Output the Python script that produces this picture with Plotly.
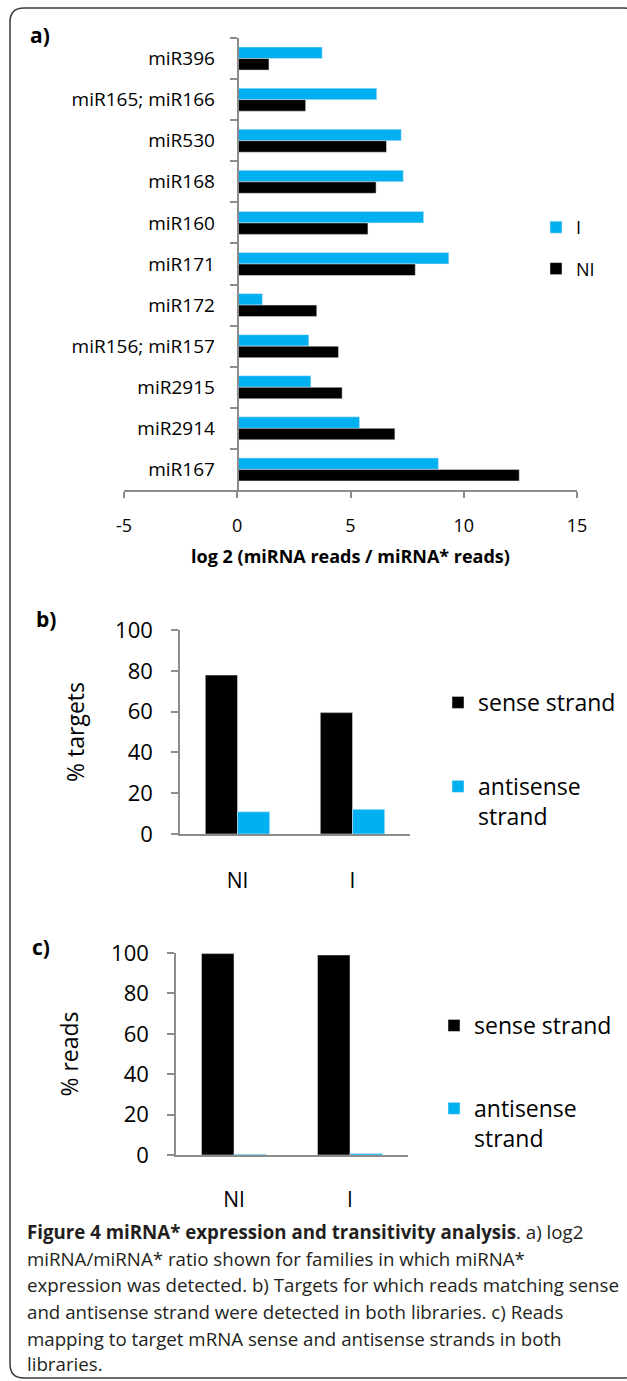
import plotly.graph_objects as go

W, H = 627, 1381

# ---------------- data ----------------
mirnas = ["miR396", "miR165; miR166", "miR530", "miR168", "miR160", "miR171",
          "miR172", "miR156; miR157", "miR2915", "miR2914", "miR167"]
ratio_I = [3.75, 6.16, 7.24, 7.33, 8.23, 9.34, 1.11, 3.16, 3.25, 5.40, 8.88]
ratio_NI = [1.40, 3.02, 6.59, 6.13, 5.77, 7.86, 3.51, 4.47, 4.63, 6.96, 12.45]
ratio_ticks = [-5, 0, 5, 10, 15]
ratio_tick_text = ["-5", "0", "5", "10", "15"]

libraries = ["NI", "I"]
targets_sense = [77.9, 59.5]
targets_antisense = [10.9, 12.1]
reads_sense = [99.7, 99.0]
reads_antisense = [0.4, 0.8]

caption_lines = [
    "<b>Figure 4 miRNA* expression and transitivity analysis</b>. a) log2",
    "miRNA/miRNA* ratio shown for families in which miRNA*",
    "expression was detected. b) Targets for which reads matching sense",
    "and antisense strand were detected in both libraries. c) Reads",
    "mapping to target mRNA sense and antisense strands in both",
    "libraries.",
]

CYAN = "#00B0F0"
BLACK = "#000000"
GRAY = "#8C8C8C"
FONT = "Open Sans"


def px(x):
    return x / W


def py(y):
    return 1 - y / H


fig = go.Figure()

# ---- panel a ----
fig.add_trace(go.Bar(y=mirnas, x=ratio_I, orientation="h", name="I",
                     marker_color=CYAN, xaxis="x", yaxis="y",
                     legend="legend", legendgroup="aI"))
fig.add_trace(go.Bar(y=mirnas, x=ratio_NI, orientation="h", name="NI",
                     marker_color=BLACK, xaxis="x", yaxis="y",
                     legend="legend", legendgroup="aNI"))

# ---- panel b ----
fig.add_trace(go.Bar(x=libraries, y=targets_sense, name="sense strand",
                     marker_color=BLACK, xaxis="x2", yaxis="y2",
                     legend="legend2", legendgroup="bs"))
fig.add_trace(go.Bar(x=libraries, y=targets_antisense, name="antisense<br>strand",
                     marker_color=CYAN, xaxis="x2", yaxis="y2",
                     legend="legend2", legendgroup="ba"))

# ---- panel c ----
fig.add_trace(go.Bar(x=libraries, y=reads_sense, name="sense strand",
                     marker_color=BLACK, xaxis="x3", yaxis="y3",
                     legend="legend3", legendgroup="cs"))
fig.add_trace(go.Bar(x=libraries, y=reads_antisense, name="antisense<br>strand",
                     marker_color=CYAN, xaxis="x3", yaxis="y3",
                     legend="legend3", legendgroup="ca"))

axis_common = dict(showline=True, linecolor=GRAY, linewidth=1.5, showgrid=False,
                   zeroline=False, tickcolor=GRAY, tickwidth=1.5, automargin=False)

annotations = [
    dict(text="<b>a)</b>", x=px(40), y=py(35), font=dict(size=21)),
    dict(text="<b>b)</b>", x=px(46), y=py(619), font=dict(size=21)),
    dict(text="<b>c)</b>", x=px(41), y=py(947), font=dict(size=21)),
]
cap_y = [1231, 1258, 1284, 1311, 1338, 1363]
for line, yy in zip(caption_lines, cap_y):
    annotations.append(dict(text=line, x=px(25), y=py(yy), xanchor="left",
                            font=dict(size=18.7, color="#231F20")))
for a in annotations:
    a.setdefault("xref", "paper")
    a.setdefault("yref", "paper")
    a.setdefault("showarrow", False)
    a.setdefault("yanchor", "middle")
    a.setdefault("xanchor", "center")

r = 14
x0, y0, x1, y1 = 10, 8, 638, 1378
path = (f"M {px(x0)},{py(y0 + r)} Q {px(x0)},{py(y0)} {px(x0 + r)},{py(y0)} "
        f"L {px(x1 - r)},{py(y0)} Q {px(x1)},{py(y0)} {px(x1)},{py(y0 + r)} "
        f"L {px(x1)},{py(y1 - r)} Q {px(x1)},{py(y1)} {px(x1 - r)},{py(y1)} "
        f"L {px(x0 + r)},{py(y1)} Q {px(x0)},{py(y1)} {px(x0)},{py(y1 - r)} Z")

fig.update_layout(
    width=W, height=H,
    margin=dict(l=0, r=0, t=0, b=0),
    paper_bgcolor="white", plot_bgcolor="white",
    font=dict(family=FONT, color="#000000"),
    barmode="group", bargap=0.44,
    xaxis=dict(domain=[px(124), px(577)], anchor="y", range=[-5, 15],
               tickmode="array", tickvals=ratio_ticks, ticktext=ratio_tick_text,
               ticks="outside", ticklen=6, tickfont=dict(size=18),
               ticklabelstandoff=13,
               title=dict(text="<b>log 2 (miRNA reads / miRNA* reads)</b>",
                          font=dict(size=18), standoff=14),
               **axis_common),
    yaxis=dict(domain=[py(490), py(38)], anchor="free", position=px(237.5),
               type="category", categoryorder="array", categoryarray=mirnas,
               autorange="reversed", ticks="outside", tickson="boundaries",
               ticklen=7, tickfont=dict(size=19), ticklabelstandoff=18,
               **axis_common),
    xaxis2=dict(domain=[px(180), px(410)], anchor="y2", type="category",
                categoryorder="array", categoryarray=libraries, ticks="",
                tickfont=dict(size=21), ticklabelstandoff=27, **axis_common),
    yaxis2=dict(domain=[py(834), py(630)], anchor="x2", range=[0, 100], dtick=20,
                ticks="outside", ticklen=7, tickfont=dict(size=22),
                ticklabelstandoff=14,
                title=dict(text="% targets", font=dict(size=23), standoff=24),
                **axis_common),
    xaxis3=dict(domain=[px(176), px(408)], anchor="y3", type="category",
                categoryorder="array", categoryarray=libraries, ticks="",
                tickfont=dict(size=21), ticklabelstandoff=25, **axis_common),
    yaxis3=dict(domain=[py(1155), py(953)], anchor="x3", range=[0, 100], dtick=20,
                ticks="outside", ticklen=7, tickfont=dict(size=22),
                ticklabelstandoff=14,
                title=dict(text="% reads", font=dict(size=23), standoff=26),
                **axis_common),
    legend=dict(x=px(536), y=py(209), xanchor="left", yanchor="top",
                font=dict(size=18), tracegroupgap=15, bgcolor="rgba(0,0,0,0)"),
    legend2=dict(x=px(438), y=py(681), xanchor="left", yanchor="top",
                 font=dict(size=23), tracegroupgap=51, valign="top",
                 bgcolor="rgba(0,0,0,0)"),
    legend3=dict(x=px(434), y=py(1004), xanchor="left", yanchor="top",
                 font=dict(size=23), tracegroupgap=50, valign="top",
                 bgcolor="rgba(0,0,0,0)"),
    annotations=annotations,
    shapes=[dict(type="path", path=path, xref="paper", yref="paper",
                 line=dict(color="#3A3A3A", width=1.5), layer="above")],
)

fig.write_html("out.html")
